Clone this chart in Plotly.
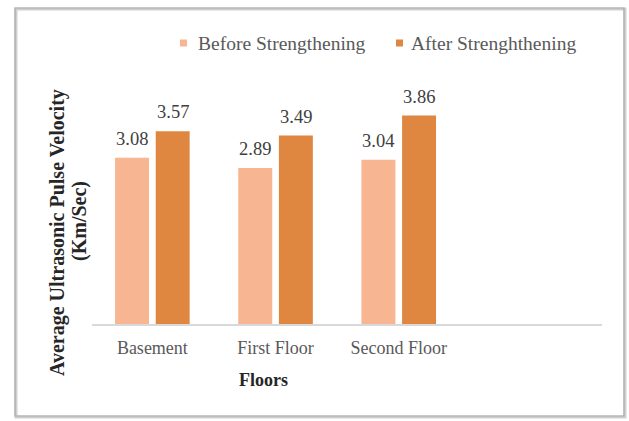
import plotly.graph_objects as go

# ---- data ----
categories = ["Basement", "First Floor", "Second Floor"]
series_names = ["Before Strengthening", "After Strenghthening"]
before_vals = [3.08, 2.89, 3.04]
after_vals = [3.57, 3.49, 3.86]
y_title_lines = ["Average Ultrasonic Pulse Velocity", "(Km/Sec)"]
x_title = "Floors"

colors = ["#F8B591", "#DF8641"]
FONT = "Liberation Serif"

W, H = 629, 421
L, R, T, B = 92, 27, 80, 97
PW, PH = W - L - R, H - T - B
AX_BOTTOM = H - B
PX_PER_UNIT = 54.0


def px_x(p):
    return (p - L) / PW


def px_y(p):
    return (AX_BOTTOM - p) / PH


fig = go.Figure()
for name, vals, col in zip(series_names, [before_vals, after_vals], colors):
    fig.add_trace(go.Bar(x=categories, y=vals, name=name,
                         marker=dict(color=col, line=dict(width=0)),
                         showlegend=False, hoverinfo="skip"))

annotations = []
# data labels
offsets = [-0.165, 0.165]
for vals, off in zip([before_vals, after_vals], offsets):
    for i, v in enumerate(vals):
        annotations.append(dict(x=i + off, y=v, xref="x", yref="y",
                                text=f"{v:.2f}", showarrow=False,
                                yanchor="middle", yshift=19,
                                font=dict(family=FONT, size=18.5, color="#404040")))

# y-axis title (two lines)
annotations.append(dict(x=px_x(57), y=px_y(233), xref="paper", yref="paper",
                        text="<b>" + y_title_lines[0] + "</b>", textangle=-90,
                        showarrow=False, xanchor="center", yanchor="middle",
                        font=dict(family=FONT, size=20, color="#262626")))
annotations.append(dict(x=px_x(80), y=px_y(221), xref="paper", yref="paper",
                        text="<b>" + y_title_lines[1] + "</b>", textangle=-90,
                        showarrow=False, xanchor="center", yanchor="middle",
                        font=dict(family=FONT, size=20, color="#262626")))
# x-axis title
annotations.append(dict(x=px_x(263.5), y=px_y(380), xref="paper", yref="paper",
                        text="<b>" + x_title + "</b>", showarrow=False,
                        xanchor="center", yanchor="middle",
                        font=dict(family=FONT, size=18, color="#262626")))

# manual legend
legend_marker_x = [180, 396]
legend_text_x = [196, 409]
legend_y = 43
shapes = []
for name, col, mx, tx in zip(series_names, colors, legend_marker_x, legend_text_x):
    shapes.append(dict(type="rect", xref="paper", yref="paper",
                       x0=px_x(mx), x1=px_x(mx + 7), y0=px_y(legend_y - 3.5), y1=px_y(legend_y + 3.5),
                       fillcolor=col, line=dict(width=0)))
    annotations.append(dict(x=px_x(tx), y=px_y(legend_y), xref="paper", yref="paper",
                            text=name, showarrow=False, xanchor="left", yanchor="middle",
                            font=dict(family=FONT, size=19.5, color="#595959")))

# outer frame with shadow
shapes.insert(0, dict(type="rect", xref="paper", yref="paper",
                      x0=px_x(16), x1=px_x(625), y0=px_y(417), y1=px_y(9),
                      line=dict(color="#D0D0D0", width=3), fillcolor="rgba(0,0,0,0)", layer="below"))
shapes.insert(1, dict(type="rect", xref="paper", yref="paper",
                      x0=px_x(15), x1=px_x(624), y0=px_y(416), y1=px_y(8),
                      line=dict(color="#A8A8A8", width=1.2), fillcolor="rgba(0,0,0,0)", layer="below"))

fig.update_layout(
    width=W, height=H,
    margin=dict(l=L, r=R, t=T, b=B, pad=0),
    paper_bgcolor="white", plot_bgcolor="white",
    barmode="group", bargap=0.34, bargroupgap=0.165,
    showlegend=False,
    font=dict(family=FONT),
    annotations=annotations,
    shapes=shapes,
    xaxis=dict(type="category", range=[-0.49, 3.65], showline=True,
               linecolor="#D9D9D9", linewidth=2, ticks="", showgrid=False,
               zeroline=False, fixedrange=True, ticklabelstandoff=6,
               tickfont=dict(family=FONT, size=18, color="#595959")),
    yaxis=dict(range=[0, PH / PX_PER_UNIT], visible=False, showgrid=False,
               zeroline=False, fixedrange=True),
)

fig.write_html("out.html", config={"displayModeBar": False})
